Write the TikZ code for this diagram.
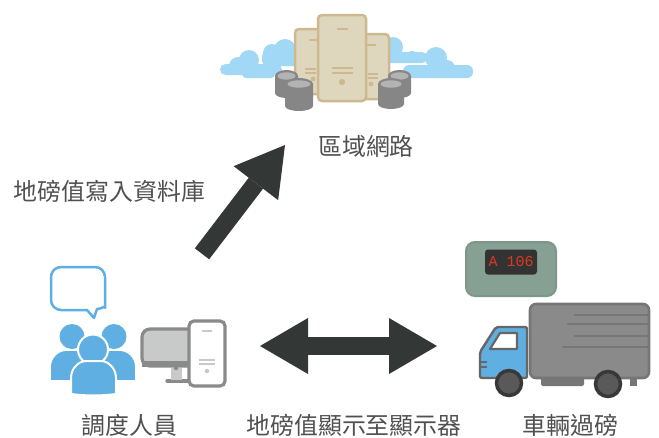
\documentclass[tikz,border=0pt]{standalone}
\usepackage{fontspec}
\setmainfont{Noto Sans CJK TC}
\newfontfamily\ledfont{Liberation Mono}
\usetikzlibrary{arrows.meta}
\definecolor{cloudblue}{HTML}{A0D8F6}
\definecolor{userblue}{HTML}{5FAFE3}
\definecolor{srvfill}{HTML}{DFD7BD}
\definecolor{srvline}{HTML}{CDB98F}
\definecolor{diskgray}{HTML}{868686}
\definecolor{disktop}{HTML}{B2B3B2}
\definecolor{pcgray}{HTML}{8A8A8A}
\definecolor{pcfill}{HTML}{C8CAC9}
\definecolor{boxgray}{HTML}{8A8A8A}
\definecolor{boxline}{HTML}{767676}
\definecolor{arrowdark}{HTML}{333735}
\definecolor{labelgray}{HTML}{505050}
\definecolor{meterfill}{HTML}{87A094}
\definecolor{meterline}{HTML}{7D978A}
\definecolor{ledred}{HTML}{DC3A1E}
\begin{document}
\begin{tikzpicture}[x=1pt, y=-1pt,
		lbl/.style={text=labelgray, font=\fontsize{23.9pt}{26pt}\selectfont, inner sep=0pt},
		cloudpart/.style={fill=cloudblue},
		server/.style={fill=srvfill, draw=srvline, line width=2.5pt, rounded corners=4pt},
		srvmark/.style={draw=srvline, line width=1.8pt},
		pcline/.style={draw=pcgray, line width=3.2pt},
		pcmark/.style={draw=pcfill, line width=1.6pt},
		person/.style={fill=userblue, draw=white, line width=1.6pt},
		wheel/.style={circle, fill=black!65, draw=black!78, line width=3.5pt, minimum size=25pt, inner sep=0pt},
		bigarrow/.style={draw=arrowdark, line width=18pt}]
	\useasboundingbox (0,0) rectangle (659,437);
	% clouds
	\fill[cloudpart, rounded corners=5.5pt] (220,64) rectangle (282,75);
	\fill[cloudpart] (249,60) circle (10) (238,66) circle (9);
	\fill[cloudpart, rounded corners=4pt] (242,68) rectangle (275,78);
	\fill[cloudpart] (285,50) circle (11) (272,53) circle (9);
	\fill[cloudpart, rounded corners=5pt] (262,51) rectangle (298,66);
	\fill[cloudpart, rounded corners=6pt] (403,65) rectangle (473,78);
	\fill[cloudpart] (436,58) circle (11) (447,68) circle (8);
	\fill[cloudpart] (393,47) circle (10) (412,57) circle (6);
	\fill[cloudpart, rounded corners=5pt] (385,52) rectangle (427,63);
	% servers
	\draw[server] (295,29) rectangle (323,94);
	\draw[server] (363,34) rectangle (389,99);
	\draw[server] (318,15) rectangle (366,101);
	\draw[srvmark] (337,29) -- (348,29) (332,68) -- (353,68) (332,73) -- (353,73);
	\draw[srvmark] (309,40) -- (318,40) (305,69) -- (316,69) (305,73) -- (316,73);
	\draw[srvmark] (367,45) -- (376,45) (368,74) -- (378,74) (368,78) -- (378,78);
	\fill[srvline] (342,82) circle (3.2) (313,79) circle (2.4) (371,84) circle (2.4);
	% disks
	\foreach \cx/\ytop/\ybot/\rx in {286.5/76/97/11.5, 299/84/110/14, 399.5/76/97/11.5, 391/84/108/13}{
		\fill[diskgray] (\cx-\rx,\ytop) -- (\cx-\rx,\ybot-4) arc[start angle=180, end angle=360, x radius=\rx, y radius=-5] -- (\cx+\rx,\ytop) arc[start angle=0, end angle=180, x radius=\rx, y radius=-6] -- cycle;
		\fill[disktop] (\cx,\ytop) ellipse[x radius=\rx-2.5, y radius=3.7];
	}
	% block arrows
	\coordinate (wstart) at (202,253.8);
	\coordinate (wend) at (283.2,147.4);
	\coordinate (sleft) at (263,346);
	\coordinate (sright) at (434,346);
	\draw[bigarrow, -{Triangle[length=48pt, width=56pt, line width=0pt, sep=-3pt]}] (wstart) -- (wend);
	\draw[bigarrow, {Triangle[length=48pt, width=56pt, line width=0pt, sep=-3pt]}-{Triangle[length=48pt, width=56pt, line width=0pt, sep=-3pt]}] (sleft) -- (sright);
	% speech bubble
	\draw[draw=userblue, fill=white, line width=2.5pt, line join=round] (94,318) -- (87,310) [rounded corners=10pt] -- (51,310) -- (51,267) -- (105,267) -- (105,298) [sharp corners] .. controls (105,305) and (102,309) .. (97,309) -- cycle;
	% people
	\fill[userblue] (72,336.5) circle (12.5) (114,336.5) circle (12.5);
	\path[person] (50,381) -- (50,368) .. controls (50,356) and (59,350) .. (67,350) -- (88,350) -- (88,381) .. controls (75,381) and (60,381) .. (50,381) -- cycle;
	\path[person] (136,381) -- (136,368) .. controls (136,356) and (127,350) .. (119,350) -- (98,350) -- (98,381) .. controls (111,381) and (126,381) .. (136,381) -- cycle;
	\path[person, line width=2pt] (93,349.5) circle (15);
	\path[person, line width=2pt] (71,394) -- (71,378) .. controls (71,368) and (79,361) .. (86,361) -- (101,361) .. controls (108,361) and (116,368) .. (116,378) -- (116,394) .. controls (100,396) and (87,396) .. (71,394) -- cycle;
	% computer
	\draw[pcline, line cap=round] (167,381) -- (188,381);
	\fill[pcfill] (171,368) rectangle (182,380);
	\draw[pcline, fill=pcfill, rounded corners=8pt] (142,329) rectangle (200,366);
	\fill[pcgray] (142,361) rectangle (194,367);
	\fill[pcgray] (176,368) circle (2.2);
	\draw[pcline, fill=white, rounded corners=5pt] (189,321) rectangle (225,386);
	\draw[pcmark] (202,331) -- (212,331) (199,360) -- (215,360) (199,364) -- (215,364);
	\fill[pcfill] (207,371) circle (2.2);
	% weighing display
	\draw[fill=meterfill, draw=meterline, line width=2pt, rounded corners=9pt] (466,242) rectangle (556,296);
	\node[fill=black!80, rounded corners=3pt, minimum width=52pt, minimum height=25pt, inner sep=0pt, text=ledred, font=\ledfont\fontsize{15pt}{16pt}\selectfont] (meter) at (511,262) {A 106};
	% truck
	\fill[boxline] (541,376) -- (584,376) -- (584,384) [rounded corners=2pt] -- (584,386) -- (541,386) -- cycle;
	\fill[boxline] (630,376) rectangle (637,386);
	\draw[fill=boxgray, draw=boxline, line width=2.6pt, rounded corners=6pt] (530,304) rectangle (649,378);
	\draw[draw=boxline, line width=2.4pt, line cap=round] (575,315) -- (648,315) (568,324) -- (648,324) (575,336) -- (648,336) (563,347) -- (648,347);
	\draw[fill=userblue, draw=black!60, line width=2.4pt, line join=round, rounded corners=2pt] (480,378) -- (480,352) -- (496,327) -- (527,327) -- (527,378) -- cycle;
	\draw[fill=white, draw=black!60, line width=2.2pt, line join=round] (490,349) -- (500,333) -- (517,333) -- (517,349) -- cycle;
	\draw[draw=black!60, line width=1.8pt] (481,362) -- (487,362) (481,367) -- (487,367);
	\node[wheel] (frontwheel) at (509,383) {};
	\node[wheel] (rearwheel) at (608,384) {};
	% labels
	\node[lbl] (wlabel) at (109.5,191) {地磅值寫入資料庫};
	\node[lbl] (netlabel) at (366,146) {區域網路};
	\node[lbl] (oplabel) at (129.5,425) {調度人員};
	\node[lbl] (showlabel) at (354,425) {地磅值顯示至顯示器};
	\node[lbl] (trucklabel) at (570.5,425) {車輛過磅};
\end{tikzpicture}
\end{document}
